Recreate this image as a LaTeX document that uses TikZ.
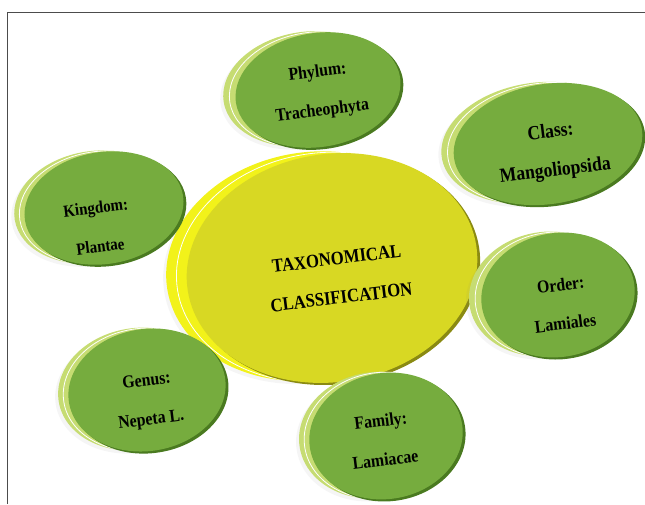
\documentclass[tikz,border=0pt]{standalone}
\usepackage{fontspec}
\setmainfont{Liberation Serif}
\newfontfamily\taxfont{Liberation Serif}[FakeStretch=0.88]
\usetikzlibrary{shadows}
\definecolor{greenback}{HTML}{C6DC72}
\definecolor{greenface}{HTML}{76AC3E}
\definecolor{greenrim}{HTML}{4A7A20}
\definecolor{limeback}{HTML}{F2F21A}
\definecolor{limeface}{HTML}{D8D823}
\definecolor{limerim}{HTML}{8A8A12}
% #1 name, #2 centre, #3 x radius, #4 y radius, #5 colour set, #6 back offset
\newcommand{\taxdisc}[6]{%
	\begin{scope}[shift={#2}, rotate=9]
		\coordinate (#1) at (0,0);
		\fill[#5back, drop shadow={shadow xshift=-3pt, shadow yshift=-3pt, opacity=.08}]
			(-#6,-#6/4) ellipse [x radius=#3, y radius=#4];
		\draw[white, thick, fill=#5back] (-#6/2,-#6/8) ellipse [x radius=#3, y radius=#4];
		\fill[#5rim] (2.5,2.5) ellipse [x radius=#3, y radius=#4];
		\fill[#5face] (0,0) ellipse [x radius=#3, y radius=#4];
	\end{scope}}

\begin{document}
\begin{tikzpicture}[
			x=1pt, y=-1pt,
			lbl/.style={font=\taxfont\bfseries\fontsize{18}{39}\selectfont, align=center, rotate=7},
			frame/.style={draw=gray!60!black, line width=1pt}
		]
			\useasboundingbox (0,0) rectangle (645,504);
			\draw[frame] (7.5,504) |- (645,12);
			\taxdisc{centre}{(332,268)}{146}{114}{lime}{20}
			\taxdisc{phylum}{(318,90)}{83}{57}{green}{12}
			\taxdisc{class}{(548,144)}{95}{60}{green}{12}
			\taxdisc{kingdom}{(104,208)}{80}{56}{green}{10}
			\taxdisc{order}{(558,295)}{77}{62}{green}{12}
			\taxdisc{genus}{(147,390)}{79}{61}{green}{10}
			\taxdisc{family}{(386,436)}{77}{63}{green}{10}
			\node[lbl, font=\taxfont\bfseries\fontsize{19}{39}\selectfont] (centretxt) at (339,278) {TAXONOMICAL\\CLASSIFICATION};
			\node[lbl] (phylumtxt) at (320,92) {Phylum:\\Tracheophyta};
			\node[lbl, font=\taxfont\bfseries\fontsize{20}{39}\selectfont] (classtxt) at (553,152) {Class:\\Mangoliopsida};
			\node[lbl, font=\taxfont\bfseries\fontsize{17}{39}\selectfont] (kingdomtxt) at (98,227) {Kingdom:\\Plantae};
			\node[lbl] (ordertxt) at (563,304) {Order:\\Lamiales};
			\node[lbl] (genustxt) at (149,401) {Genus:\\Nepeta L.};
			\node[lbl] (familytxt) at (383,440) {Family:\\Lamiacae};
		\end{tikzpicture}
\end{document}
